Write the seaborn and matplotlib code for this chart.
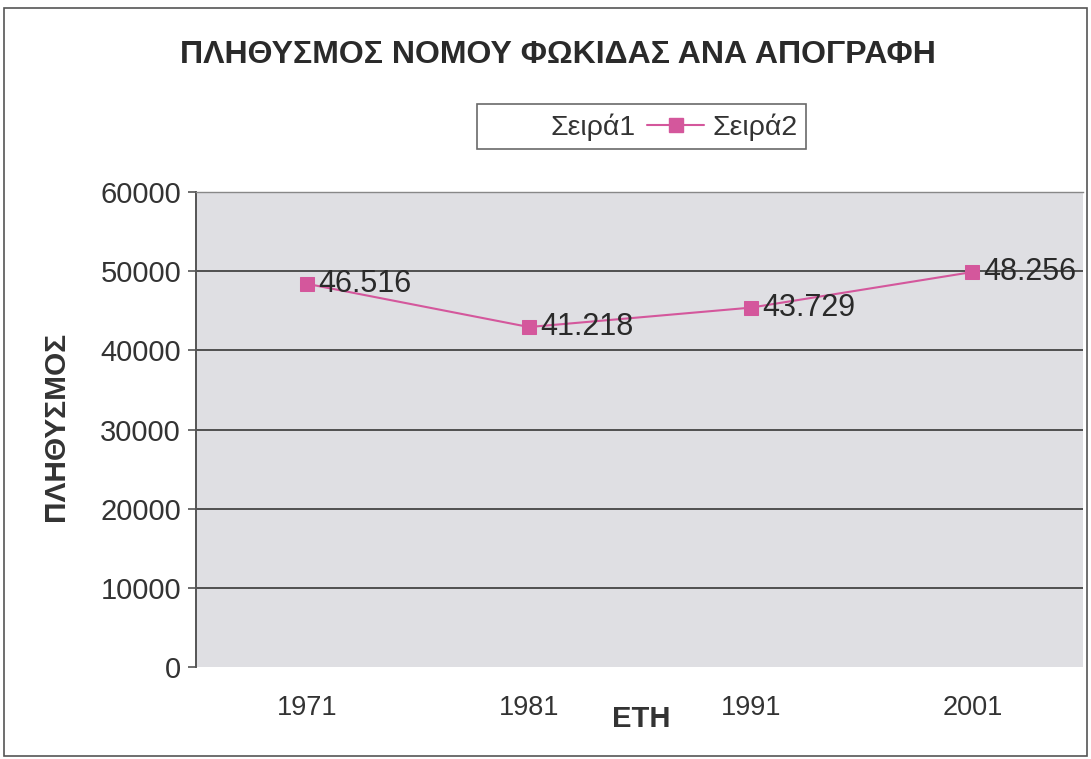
"""Πληθυσμός νομού Φωκίδας ανά απογραφή - αναπαραγωγή γραφήματος Excel."""

import matplotlib.pyplot as plt
import pandas as pd
import seaborn as sns
from matplotlib.lines import Line2D
from matplotlib.patches import Rectangle

plt.switch_backend("Agg")

YEARS = ["1971", "1981", "1991", "2001"]
# θέσεις των σημείων όπως φαίνονται στο γράφημα
POPULATION = [48400, 42950, 45400, 49900]
# ετικέτες δεδομένων όπως είναι γραμμένες
POINT_LABELS = ["46.516", "41.218", "43.729", "48.256"]
Y_TICKS = [0, 10000, 20000, 30000, 40000, 50000, 60000]

LINE_COLOR = "#d4579c"
FONT = ["Liberation Sans", "DejaVu Sans"]

sns.set_theme(style="white")
plt.rcParams["font.family"] = FONT

df = pd.DataFrame({"year": YEARS, "population": POPULATION})

fig = plt.figure(figsize=(10.91, 7.59), dpi=100)
ax = fig.add_axes([0.180, 0.121, 0.813, 0.626])
ax.set_facecolor("#dfdfe3")

sns.lineplot(
    data=df,
    x="year",
    y="population",
    marker="s",
    markersize=10,
    markeredgecolor=LINE_COLOR,
    color=LINE_COLOR,
    linewidth=1.5,
    ax=ax,
)

for i, (value, text) in enumerate(zip(POPULATION, POINT_LABELS)):
    ax.annotate(
        text,
        (i, value),
        xytext=(8, 0),
        textcoords="offset points",
        va="center",
        ha="left",
        fontsize=22,
        color="#2a2a2a",
    )

ax.set_xlim(-0.5, 3.5)
ax.set_ylim(0, 60000)
ax.set_yticks(Y_TICKS)
ax.set_yticklabels([str(t) for t in Y_TICKS], fontsize=21, color="#333333")
ax.tick_params(axis="x", labelsize=19.5, colors="#333333", length=0, pad=20)
ax.tick_params(axis="y", length=6, width=1.2, color="#555555", left=True, pad=5)

for t in Y_TICKS[1:-1]:
    ax.axhline(t, color="#444444", linewidth=1.3, zorder=1)

for side in ["right", "bottom"]:
    ax.spines[side].set_visible(False)
ax.spines["top"].set_color("#888888")
ax.spines["top"].set_linewidth(1.0)
ax.spines["left"].set_color("#555555")
ax.spines["left"].set_linewidth(1.4)

ax.set_xlabel("")
ax.set_ylabel("")
fig.text(0.588, 0.053, "ΕΤΗ", fontsize=21, fontweight="bold", ha="center",
         va="center", color="#333333")
fig.text(0.051, 0.438, "ΠΛΗΘΥΣΜΟΣ", fontsize=21.5, fontweight="bold",
         rotation=90, ha="center", va="center", color="#333333")
fig.text(0.511, 0.927, "ΠΛΗΘΥΣΜΟΣ ΝΟΜΟΥ ΦΩΚΙΔΑΣ ΑΝΑ ΑΠΟΓΡΑΦΗ", fontsize=23,
         fontweight="bold", ha="center", va="center", color="#2a2a2a")

handles = [
    Line2D([], [], color="white", linewidth=1.5),
    Line2D([], [], color=LINE_COLOR, linewidth=1.5, marker="s", markersize=10),
]
leg = fig.legend(
    handles,
    ["Σειρά1", "Σειρά2"],
    loc="center",
    bbox_to_anchor=(0.588, 0.833),
    ncol=2,
    fontsize=20.5,
    frameon=True,
    fancybox=False,
    edgecolor="#444444",
    handlelength=2.0,
    columnspacing=0.4,
    handletextpad=0.3,
    borderpad=0.3,
)
leg.get_frame().set_linewidth(1.2)
for text in leg.get_texts():
    text.set_color("#333333")

fig.patches.append(
    Rectangle((0.004, 0.004), 0.992, 0.985, transform=fig.transFigure,
              fill=False, edgecolor="#555555", linewidth=1.2)
)

fig.savefig("out.png", dpi=100)
plt.close(fig)
